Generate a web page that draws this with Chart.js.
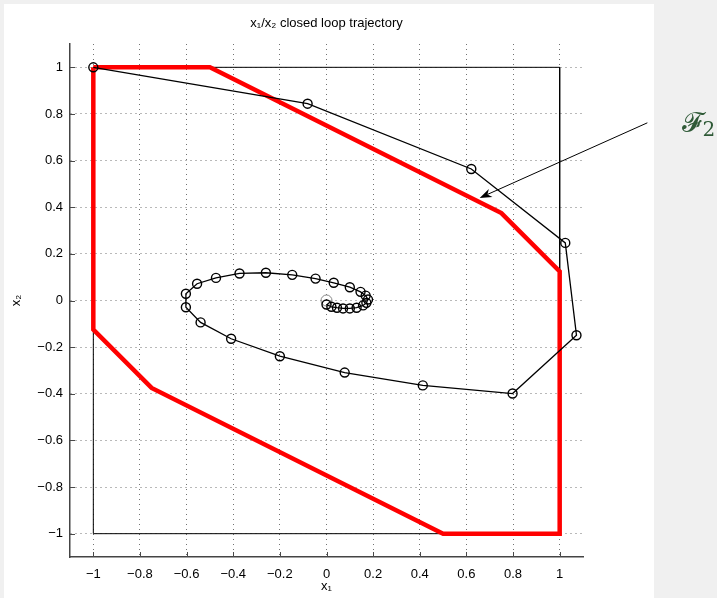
<!DOCTYPE html>
<html><head><meta charset="utf-8">
<script src="https://cdn.jsdelivr.net/npm/chart.js@4.4.0/dist/chart.umd.min.js"></script>
<style>html,body{margin:0;padding:0;background:#f0f0f0;}canvas{display:block;}</style>
</head><body>
<canvas id="c" width="717" height="598"></canvas>
<script>
// ---- data ----
const tickValues = [-1, -0.8, -0.6, -0.4, -0.2, 0, 0.2, 0.4, 0.6, 0.8, 1];
const tickLabels = ['\u22121', '\u22120.8', '\u22120.6', '\u22120.4', '\u22120.2', '0', '0.2', '0.4', '0.6', '0.8', '1'];

const trajX = [-1, -0.081, 0.621, 1.024, 1.072, 0.798, 0.413, 0.078, -0.200, -0.409, -0.540, -0.603, -0.603,
  -0.555, -0.474, -0.373, -0.260, -0.147, -0.047, 0.031, 0.100, 0.146, 0.168, 0.178, 0.171, 0.157, 0.129,
  0.100, 0.071, 0.045, 0.021, 0.000];
const trajY = [1, 0.844, 0.564, 0.247, -0.149, -0.399, -0.364, -0.309, -0.239, -0.164, -0.094, -0.029, 0.029,
  0.072, 0.097, 0.116, 0.119, 0.110, 0.094, 0.076, 0.057, 0.037, 0.021, 0.004, -0.010, -0.021, -0.031,
  -0.034, -0.034, -0.031, -0.027, -0.017];

const regionX = [-1, -0.5, 0.75, 1, 1, 0.5, -0.75, -1, -1];
const regionY = [1, 1, 0.375, 0.125, -1, -1, -0.375, -0.125, 1];

const boxX = [-1, 1, 1, -1, -1];
const boxY = [1, 1, -1, -1, 1];

const originX = [0];
const originY = [0];

const labelText = '\u{1D4D5}';
const labelSub = '2';
const labelAt = {x: 1.574, y: 0.745};
const arrowFrom = {x: 1.376, y: 0.762};
const arrowTo = {x: 0.657, y: 0.440};

const zip = (xs, ys) => xs.map((x, i) => ({x: x, y: ys[i]}));
const FONT = '"Liberation Sans", Arial, Helvetica, sans-serif';

const bgPlugin = {
  id: 'bg',
  beforeDraw(chart) {
    const ctx = chart.ctx;
    ctx.save();
    ctx.fillStyle = '#f0f0f0';
    ctx.fillRect(0, 0, chart.width, chart.height);
    ctx.fillStyle = '#ffffff';
    ctx.fillRect(4, 4, 650, chart.height - 4);
    ctx.restore();
  }
};

const tickPlugin = {
  id: 'inticks',
  afterDraw(chart) {
    const ctx = chart.ctx, a = chart.chartArea;
    const xs = chart.scales.x, ys = chart.scales.y;
    ctx.save();
    ctx.strokeStyle = '#4a4a4a';
    ctx.lineWidth = 1;
    ctx.beginPath();
    xs.ticks.forEach(t => {
      const px = Math.round(xs.getPixelForValue(t.value)) + 0.5;
      ctx.moveTo(px, a.bottom); ctx.lineTo(px, a.bottom - 5);
    });
    ys.ticks.forEach(t => {
      const py = Math.round(ys.getPixelForValue(t.value)) + 0.5;
      ctx.moveTo(a.left, py); ctx.lineTo(a.left + 5, py);
    });
    ctx.stroke();

    // annotation arrow
    const x0 = xs.getPixelForValue(arrowFrom.x), y0 = ys.getPixelForValue(arrowFrom.y);
    const x1 = xs.getPixelForValue(arrowTo.x), y1 = ys.getPixelForValue(arrowTo.y);
    const ang = Math.atan2(y1 - y0, x1 - x0);
    const L = 12, W = 4.5, N = 8.5;
    const ux = Math.cos(ang), uy = Math.sin(ang);
    const bx = x1 - ux * N, by = y1 - uy * N;
    ctx.strokeStyle = '#000';
    ctx.lineWidth = 1;
    ctx.beginPath();
    ctx.moveTo(x0, y0); ctx.lineTo(bx, by);
    ctx.stroke();
    ctx.fillStyle = '#000';
    ctx.beginPath();
    ctx.moveTo(x1, y1);
    ctx.lineTo(x1 - ux * L - uy * W, y1 - uy * L + ux * W);
    ctx.lineTo(bx, by);
    ctx.lineTo(x1 - ux * L + uy * W, y1 - uy * L - ux * W);
    ctx.closePath();
    ctx.fill();

    // label
    const lx = xs.getPixelForValue(labelAt.x), ly = ys.getPixelForValue(labelAt.y);
    ctx.fillStyle = '#2f5a37';
    ctx.textBaseline = 'alphabetic';
    ctx.textAlign = 'left';
    ctx.font = '27px "DejaVu Sans", "DejaVu Serif", serif';
    const w = ctx.measureText(labelText).width;
    ctx.fillText(labelText, lx - 12, ly + 4);
    ctx.font = '20px "DejaVu Serif", serif';
    ctx.fillText(labelSub, lx - 12 + w + 1, ly + 9);
    ctx.restore();
  }
};

const axisCommon = {
  type: 'linear',
  min: -1.1, max: 1.1,
  grid: {display: true, drawTicks: false, color: 'rgba(0,0,0,0.55)', lineWidth: 1},
  border: {display: true, color: '#444', width: 1.5, dash: [1, 4]},
  ticks: {includeBounds: false, color: '#000', font: {family: FONT, size: 13},
          callback: (v, i) => tickLabels[i]}
};

new Chart(document.getElementById('c'), {
  type: 'scatter',
  data: {
    datasets: [
      {label: 'trajectory', data: zip(trajX, trajY), showLine: true, borderColor: '#000', borderWidth: 1.3,
       pointRadius: 4.5, pointBorderWidth: 1.4, pointBorderColor: '#000', pointBackgroundColor: 'rgba(0,0,0,0)',
       tension: 0},
      {label: 'origin', data: zip(originX, originY), showLine: false, pointRadius: 5.5, pointBorderWidth: 1,
       pointBorderColor: '#888', pointBackgroundColor: 'rgba(0,0,0,0)'},
      {label: 'region', data: zip(regionX, regionY), showLine: true, borderColor: '#ff0000', borderWidth: 4.5,
       pointRadius: 0, tension: 0, borderJoinStyle: 'miter'},
      {label: 'box', data: zip(boxX, boxY), showLine: true, borderColor: '#000', borderWidth: 1,
       pointRadius: 0, tension: 0}
    ]
  },
  options: {
    responsive: false,
    animation: false,
    events: [],
    clip: false,
    layout: {padding: {left: 4, right: 134, top: 0, bottom: 0}},
    plugins: {
      legend: {display: false},
      tooltip: {enabled: false},
      title: {display: true, fullSize: false, text: 'x\u2081/x\u2082 closed loop trajectory', color: '#000',
              font: {family: FONT, size: 13, weight: 'normal', lineHeight: 1.2},
              padding: {top: 15.5, bottom: 12.9}}
    },
    scales: {
      x: Object.assign({}, axisCommon, {
        position: 'bottom',
        afterBuildTicks: s => { s.ticks = tickValues.map(v => ({value: v})); },
        afterFit: s => { s.height = 41; },
        ticks: Object.assign({}, axisCommon.ticks, {padding: 10, maxRotation: 0, autoSkip: false}),
        title: {display: true, text: 'x\u2081', color: '#000', font: {family: FONT, size: 13, lineHeight: 1.2},
                padding: {top: 0, bottom: 3.5}}
      }),
      y: Object.assign({}, axisCommon, {
        position: 'left',
        afterBuildTicks: s => { s.ticks = tickValues.map(v => ({value: v})); },
        afterFit: s => { s.width = 66; },
        ticks: Object.assign({}, axisCommon.ticks, {padding: 7, autoSkip: false}),
        title: {display: true, text: 'x\u2082', color: '#000', font: {family: FONT, size: 13, lineHeight: 1.2},
                padding: {top: 4.5, bottom: 0}}
      })
    }
  },
  plugins: [bgPlugin, tickPlugin]
});
</script>
</body></html>
